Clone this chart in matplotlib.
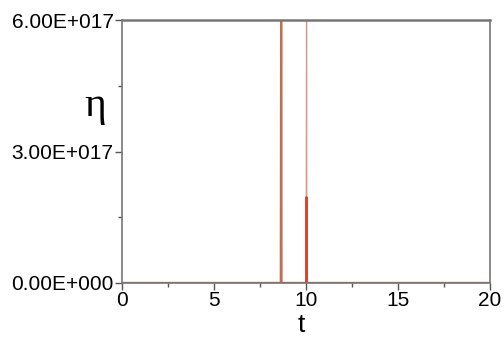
import matplotlib
matplotlib.use("Agg")
import matplotlib.pyplot as plt
from matplotlib.ticker import FixedLocator, FuncFormatter

# data
t_a = [0, 8.63, 8.65, 8.67, 20]
eta_a = [0, 0, 7.0e17, 0, 0]
t_b = [0, 10.01, 10.03, 10.05, 20]
eta_b = [0, 0, 7.0e17, 0, 0]
t_c = [0, 10.01, 10.03, 10.05, 20]
eta_c = [0, 0, 1.96e17, 0, 0]
t_d = [0, 20]
eta_d = [0, 0]

y_ticks = [0, 3e17, 6e17]
y_labels = ["0.00E+000", "3.00E+017", "6.00E+017"]
x_ticks = [0, 5, 10, 15, 20]

plt.rcParams['font.family'] = ['Liberation Sans', 'DejaVu Sans']

fig = plt.figure(figsize=(5.04, 3.38), dpi=100)
ax = fig.add_axes([122/504, 55/338, 368/504, 263/338])

ax.plot(t_d, eta_d, color='#a8d8ea', lw=1.2, zorder=1)
ax.plot(t_a, eta_a, color='#c0704f', lw=1.6)
ax.plot(t_b, eta_b, color='#d49a88', lw=0.9)
ax.plot(t_c, eta_c, color='#d9452b', lw=1.5)
ax.plot(t_d, eta_d, color='#b04030', lw=0.8)

ax.set_xlim(0, 20)
ax.set_ylim(0, 6e17)
ax.xaxis.set_major_locator(FixedLocator(x_ticks))
ax.xaxis.set_minor_locator(FixedLocator([2.5, 7.5, 12.5, 17.5]))
ax.yaxis.set_major_locator(FixedLocator(y_ticks))
ax.yaxis.set_minor_locator(FixedLocator([1.5e17, 4.5e17]))
ax.yaxis.set_major_formatter(FuncFormatter(lambda v, p: y_labels[y_ticks.index(v)] if v in y_ticks else ""))

ax.tick_params(which='both', direction='out', top=False, right=False,
               color='#555555', labelsize=15, pad=1)
ax.tick_params(which='major', length=5, width=1)
ax.tick_params(which='minor', length=3, width=1)

for s in ax.spines.values():
    s.set_color('#777777')
    s.set_linewidth(1.2)
ax.spines['top'].set_linewidth(1.8)

fig.text(95/504, 1 - 106/338, "η", fontsize=30, family=['Liberation Serif', 'DejaVu Serif'],
         ha='center', va='center')
fig.text(301/504, 1 - 325/338, "t", fontsize=19, ha='center', va='center')

fig.savefig("out.png", dpi=100)
